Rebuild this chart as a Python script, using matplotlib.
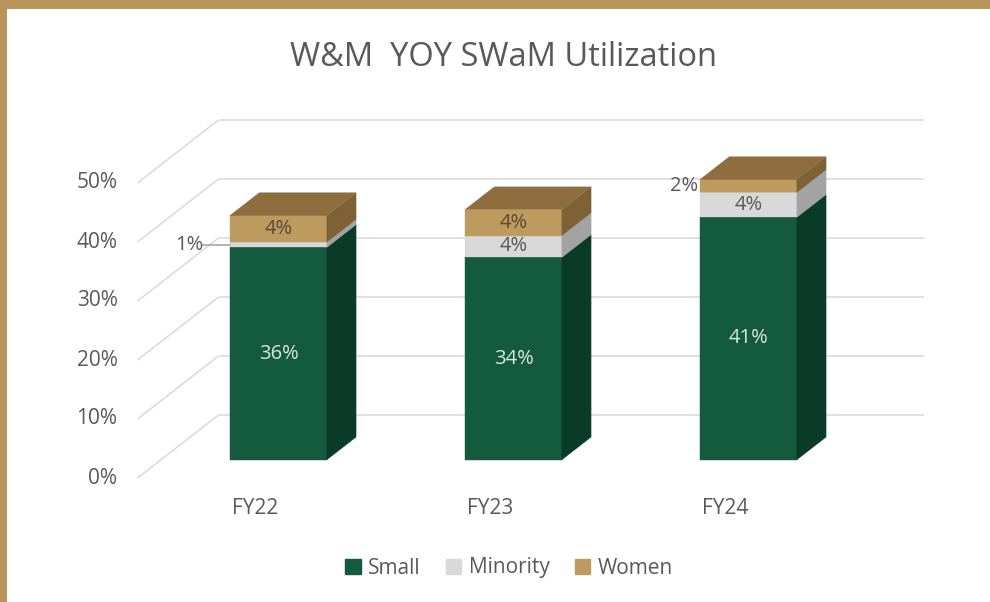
import matplotlib
matplotlib.use("Agg")
import matplotlib.pyplot as plt
from matplotlib.patches import Polygon, Patch, Rectangle

# ---------------- data ----------------
categories = ["FY22", "FY23", "FY24"]
series_names = ["Small", "Minority", "Women"]
small = [36.0, 34.3, 41.1]
minority = [0.9, 3.7, 4.2]
women = [4.5, 4.4, 2.2]
yticks = [0, 10, 20, 30, 40, 50]
title = "W&M  YOY SWaM Utilization"

# ---------------- styles ----------------
front_cols = ["#135A3F", "#D9D9D9", "#BD9A5E"]
side_cols = ["#0A3B28", "#A3A3A3", "#7E6236"]
top_cols = ["#0F4A33", "#BFBFBF", "#8E6E3F"]
label_cols = ["#D8E8DF", "#595959", "#5A4A35"]
grid_col = "#DCDCDC"
text_col = "#595959"
border_col = "#B8955A"
font = ["Open Sans", "DejaVu Sans"]
plt.rcParams["font.family"] = font

W, H = 990, 602
fig = plt.figure(figsize=(W / 100, H / 100), dpi=100)
fig.patch.set_facecolor("white")
ax = fig.add_axes([0, 0, 1, 1])
ax.set_axis_off()

# front plane mapping (category units / percent)
x0_px, step_px = 255, 235
y0_px, per_pct = 478, 5.9
ax.set_xlim(-x0_px / step_px, (W - x0_px) / step_px)
ax.set_ylim((y0_px - H) / per_pct, y0_px / per_pct)

DX = 81 / step_px      # depth shift in x per unit depth
DY = 63 / per_pct      # depth shift in y per unit depth


def P(x, v, d):
    return (x + DX * d, v + DY * d)


# walls / gridlines
xl, xr = -0.5, len(categories) - 0.5
for v in yticks:
    ax.plot(*zip(P(xl, v, 0), P(xl, v, 1)), color=grid_col, lw=1.2, zorder=1,
            solid_capstyle="butt")
    ax.plot(*zip(P(xl, v, 1), P(xr, v, 1)), color=grid_col, lw=1.2, zorder=1,
            solid_capstyle="butt")
    fx, fy = P(xl, v, 0)
    ax.text(fx - 20 / step_px, fy, f"{v}%", ha="right", va="center",
            fontsize=15, color=text_col, zorder=5)

# bars
hw = 0.206
d_front, d_back = 0.29, 0.65
series = [small, minority, women]
z = 2
for i, cat in enumerate(categories):
    base = 0.0
    for s, vals in enumerate(series):
        v = vals[i]
        lo, hi = base, base + v
        front = [P(i - hw, lo, d_front), P(i + hw, lo, d_front),
                 P(i + hw, hi, d_front), P(i - hw, hi, d_front)]
        side = [P(i + hw, lo, d_front), P(i + hw, lo, d_back),
                P(i + hw, hi, d_back), P(i + hw, hi, d_front)]
        top = [P(i - hw, hi, d_front), P(i + hw, hi, d_front),
               P(i + hw, hi, d_back), P(i - hw, hi, d_back)]
        for poly, col in ((front, front_cols[s]), (side, side_cols[s]),
                          (top, top_cols[s])):
            ax.add_patch(Polygon(poly, closed=True, facecolor=col,
                                 edgecolor=col, lw=0.3, zorder=z))
        z += 0.01
        # data label
        lab = f"{v:.0f}%"
        cx, cy = P(i, (lo + hi) / 2, d_front)
        if v >= 3:
            ax.text(cx, cy, lab, ha="center", va="center", fontsize=14.5,
                    color=label_cols[s], zorder=10)
        else:
            lx, ly = P(i - hw, (lo + hi) / 2, d_front)
            if v < 1.5:
                gap = 27 / step_px
                ax.plot([lx - gap, lx], [ly, ly], color="#A6A6A6", lw=1.2,
                        zorder=9)
                ax.text(lx - gap, ly, lab, ha="right", va="center",
                        fontsize=14.5, color=text_col, zorder=10)
            else:
                ax.text(lx - 2 / step_px, ly, lab, ha="right", va="center",
                        fontsize=14.5, color=text_col, zorder=10)
        base = hi
    # category label
    cx, cy = P(i, 0, 0)
    ax.text(cx, cy - 31 / per_pct, cat, ha="center", va="center",
            fontsize=15, color=text_col)

# title
fig.text(504 / W, 1 - 57 / H, title, ha="center", va="center",
         fontsize=23.5, color=text_col)

# legend
handles = [Patch(facecolor=c, edgecolor=c) for c in front_cols]
leg = fig.legend(handles, series_names, loc="center",
                 bbox_to_anchor=(509 / W, 1 - 568 / H), ncol=3, frameon=False,
                 fontsize=15, handlelength=0.75, handleheight=0.75,
                 handletextpad=0.35, columnspacing=1.2, borderaxespad=0)
for t in leg.get_texts():
    t.set_color(text_col)

# gold frame (top and left)
fig.patches.append(Rectangle((0, 1 - 9 / H), 1, 9 / H, transform=fig.transFigure,
                             facecolor=border_col, edgecolor="none", zorder=20))
fig.patches.append(Rectangle((0, 0), 7 / W, 1, transform=fig.transFigure,
                             facecolor=border_col, edgecolor="none", zorder=20))

fig.savefig("out.png", dpi=100, facecolor="white")
